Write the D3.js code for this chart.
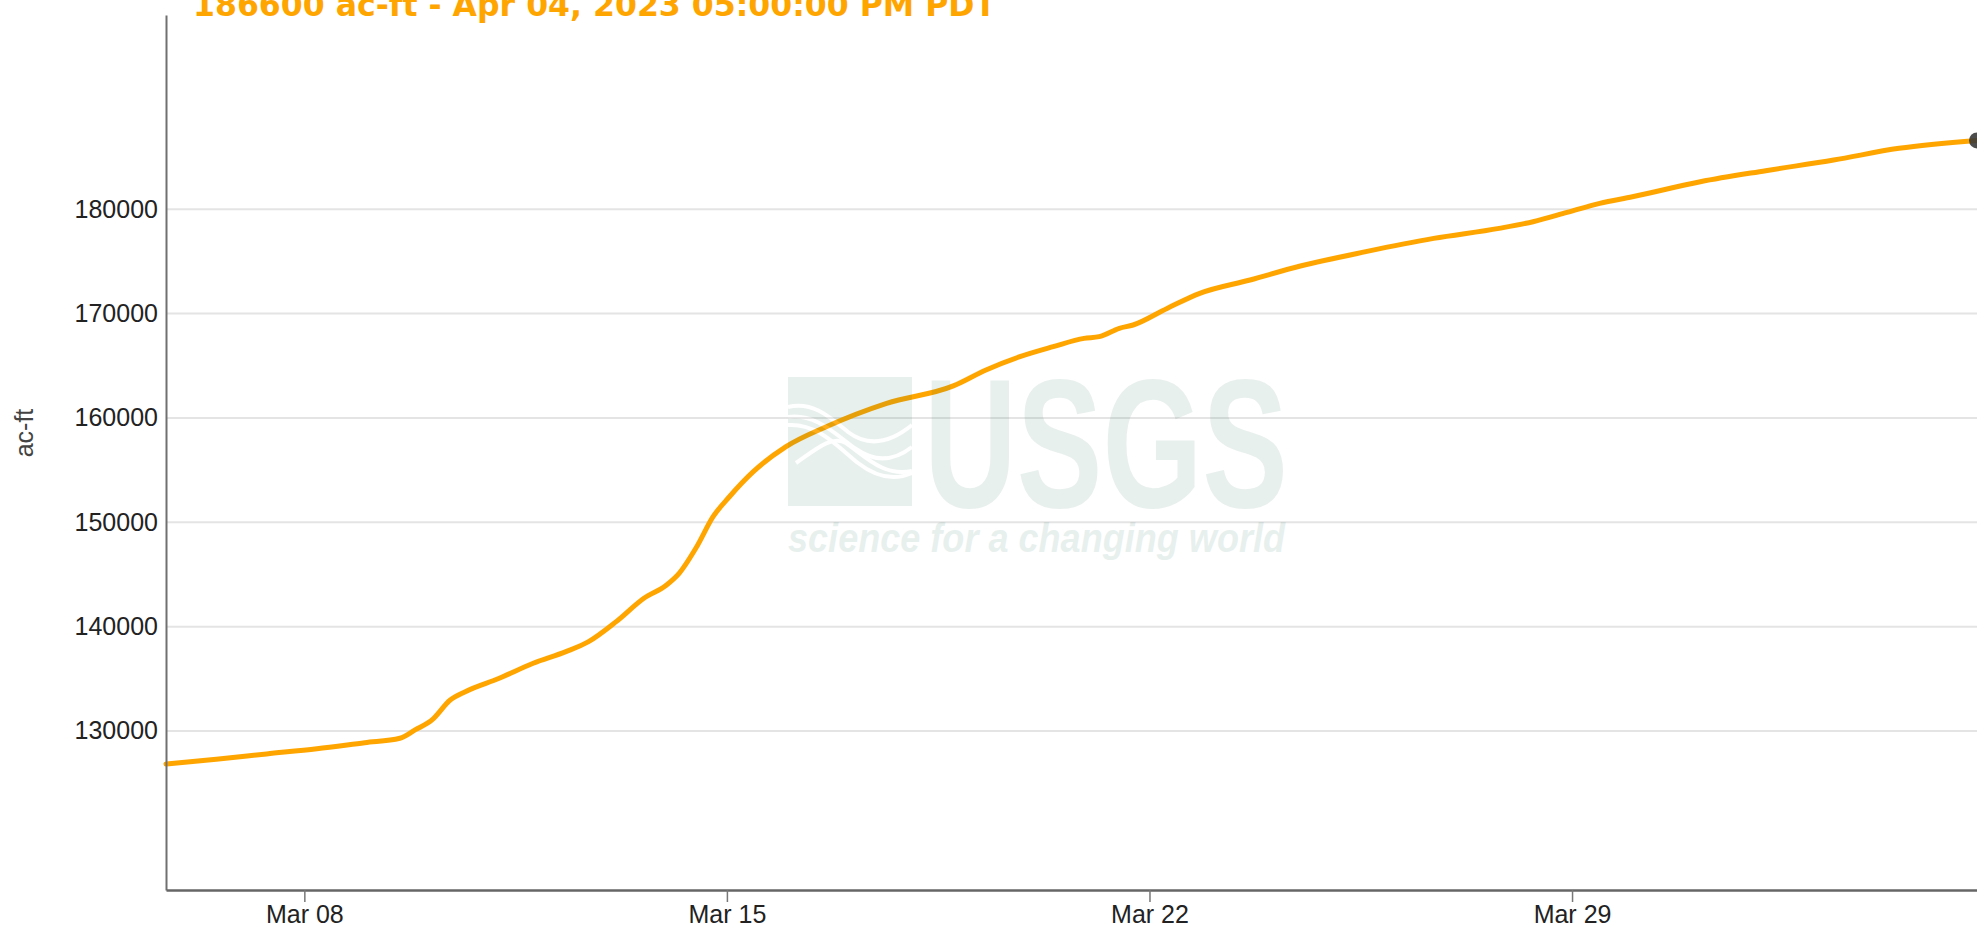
<!DOCTYPE html>
<html><head><meta charset="utf-8">
<script src="https://cdn.jsdelivr.net/npm/d3@7"></script>
<style>html,body{margin:0;padding:0;background:#fff;overflow:hidden}</style>
</head><body>
<svg id="chart" width="1977" height="928"></svg>
<script>
// ---- data ----
const times = [
"2023-03-05T17:00","2023-03-06T13:00","2023-03-07T09:00","2023-03-08T05:00","2023-03-09T00:00",
"2023-03-09T14:00","2023-03-09T20:00","2023-03-10T03:00","2023-03-10T10:00","2023-03-10T16:00",
"2023-03-11T05:30","2023-03-11T19:00","2023-03-12T08:00","2023-03-12T17:00","2023-03-13T04:00",
"2023-03-13T15:00","2023-03-14T00:00","2023-03-14T05:00","2023-03-14T12:00","2023-03-14T18:30",
"2023-03-15T01:00","2023-03-15T10:30","2023-03-15T23:30","2023-03-16T15:30","2023-03-17T15:30",
"2023-03-18T18:00","2023-03-19T07:00","2023-03-19T20:30","2023-03-20T09:45","2023-03-20T22:00",
"2023-03-21T04:00","2023-03-21T12:00","2023-03-21T17:30","2023-03-22T07:00","2023-03-22T20:00",
"2023-03-23T16:00","2023-03-24T12:00","2023-03-25T14:00","2023-03-26T17:00","2023-03-27T19:00",
"2023-03-28T08:30","2023-03-28T22:00","2023-03-29T11:00","2023-03-30T00:00","2023-03-31T03:00",
"2023-04-01T05:00","2023-04-02T08:00","2023-04-03T10:00","2023-04-04T17:00"
];
const values = [
126840,127290,127800,128300,128880,
129300,130100,131120,132970,133770,
135050,136490,137600,138560,140480,
142720,143990,145110,147660,150540,
152450,154850,157250,159160,161400,
163070,164600,165870,166830,167630,
167790,168590,168910,170500,171940,
173220,174560,175940,177210,178170,
178810,179700,180570,181200,182640,
183700,184720,185840,186600
];
const yTickValues = [130000,140000,150000,160000,170000,180000];
const xTickValues = ["2023-03-08T00:00","2023-03-15T00:00","2023-03-22T00:00","2023-03-29T00:00"];
const xDomain = ["2023-03-05T17:00","2023-04-04T17:00"];
const yDomain = [114760, 198620];
const titleText = "186600 ac-ft - Apr 04, 2023 05:00:00 PM PDT";
const yLabel = "ac-ft";

// ---- layout ----
const W = 1977, H = 928;
const m = {left:166, right:0, top:15, bottom:38};
const parse = d3.utcParse("%Y-%m-%dT%H:%M");
const data = times.map((t,i)=>({t:parse(t), v:values[i]}));

const svg = d3.select("#chart");
const x = d3.scaleUtc().domain(xDomain.map(parse)).range([m.left, W - m.right]);
const y = d3.scaleLinear().domain(yDomain).range([H - m.bottom, m.top]);
const font = "'Liberation Sans', Arial, sans-serif";

// grid
svg.append("g").selectAll("line").data(yTickValues).join("line")
  .attr("x1", m.left).attr("x2", W - m.right)
  .attr("y1", d=>y(d)).attr("y2", d=>y(d))
  .attr("stroke", "#e4e4e4").attr("stroke-width", 2);

// line
svg.append("path").datum(data)
  .attr("fill","none").attr("stroke","#FFA500").attr("stroke-width",5)
  .attr("stroke-linejoin","round").attr("stroke-linecap","round")
  .attr("d", d3.line().x(d=>x(d.t)).y(d=>y(d.v)).curve(d3.curveMonotoneX));

// watermark
const wm = svg.append("g").attr("opacity", 0.1);
const wmCol = "rgb(35,115,90)";
wm.append("rect").attr("x",788).attr("y",377).attr("width",124).attr("height",129).attr("fill",wmCol);
const waves = wm.append("g").attr("transform","translate(788,377)")
  .attr("fill","none").attr("stroke","#fff").attr("stroke-width",4);
["M0,30 C25,24 42,40 60,55 C80,70 102,66 124,48",
 "M0,40 C28,36 48,58 68,72 C88,86 106,84 124,70",
 "M8,86 C28,72 44,58 58,66 C78,80 96,100 124,94",
 "M0,48 C30,46 50,70 70,86 C88,100 106,104 124,96"].forEach(p=>waves.append("path").attr("d",p));
wm.append("text").attr("x",924).attr("y",507)
  .attr("font-family","'Liberation Sans Narrow','Liberation Sans',Arial,sans-serif")
  .attr("font-weight","bold").attr("font-size",184)
  .attr("textLength",364).attr("lengthAdjust","spacingAndGlyphs")
  .attr("fill",wmCol).text("USGS");
wm.append("text").attr("x",788).attr("y",552)
  .attr("font-family","'Liberation Sans Narrow','Liberation Sans',Arial,sans-serif")
  .attr("font-weight","bold").attr("font-style","italic").attr("font-size",40)
  .attr("textLength",497).attr("lengthAdjust","spacingAndGlyphs")
  .attr("fill",wmCol).text("science for a changing world");

// axes
const yAxis = svg.append("g").attr("transform",`translate(${m.left},0)`)
  .call(d3.axisLeft(y).tickValues(yTickValues).tickSize(0).tickSizeOuter(0).tickPadding(8).tickFormat(d3.format("d")));
yAxis.select(".domain").attr("stroke","#707070").attr("stroke-width",2);
yAxis.selectAll("text").attr("font-family",font).attr("font-size",25).attr("fill","#222");

const xAxis = svg.append("g").attr("transform",`translate(0,${H - m.bottom})`)
  .call(d3.axisBottom(x).tickValues(xTickValues.map(parse)).tickSize(12).tickSizeOuter(0).tickFormat(d3.utcFormat("%b %d")));
xAxis.select(".domain").attr("stroke","#666").attr("stroke-width",2.5);
xAxis.selectAll(".tick line").attr("stroke","#777").attr("stroke-width",1.5);
xAxis.selectAll("text").attr("font-family",font).attr("font-size",25).attr("fill","#222");

// y label
svg.append("text").attr("transform","translate(33,433) rotate(-90)")
  .attr("text-anchor","middle").attr("font-family",font).attr("font-size",25).attr("fill","#444").text(yLabel);

// last point
const last = data[data.length-1];
svg.append("circle").attr("cx",x(last.t)).attr("cy",y(last.v)).attr("r",8)
  .attr("fill","#3a3a3a").attr("opacity",0.9);

// title
svg.append("text").attr("x",193).attr("y",16)
  .attr("font-family","'DejaVu Sans', sans-serif").attr("font-weight","bold").attr("font-size",31.5)
  .attr("textLength",803).attr("lengthAdjust","spacingAndGlyphs")
  .attr("fill","#FFA500").text(titleText);
</script>
</body></html>
